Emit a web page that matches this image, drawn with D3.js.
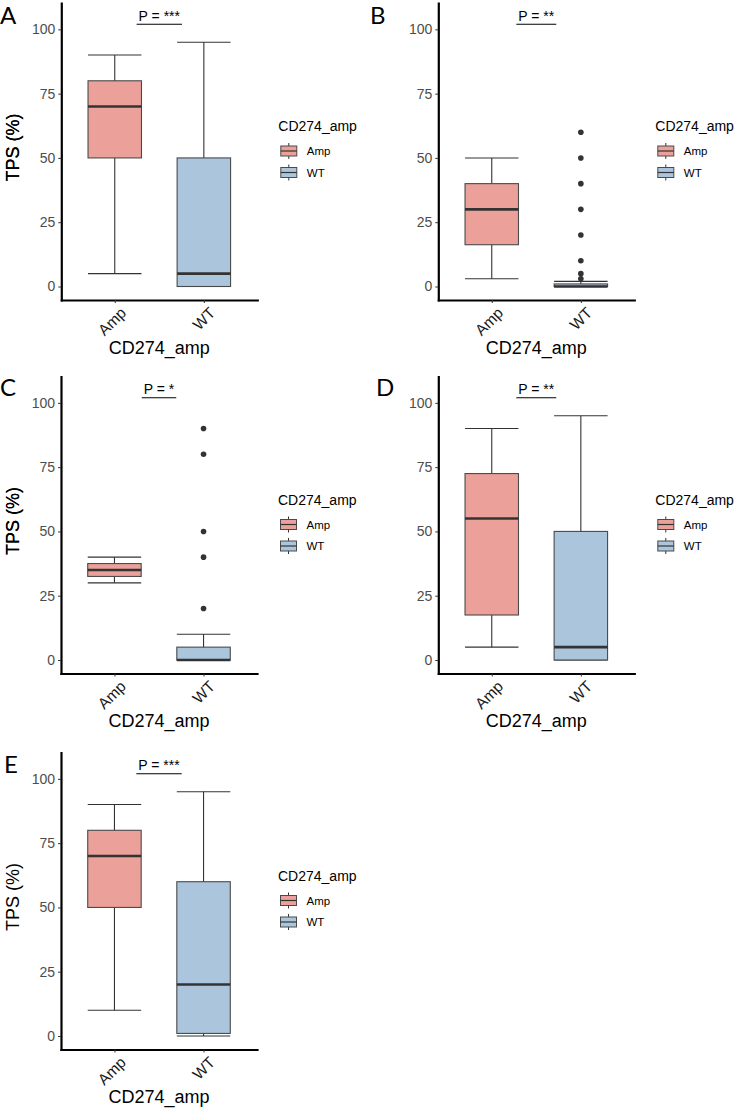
<!DOCTYPE html>
<html>
<head>
<meta charset="utf-8">
<script src="https://cdn.jsdelivr.net/npm/d3@7"></script>
<style>
  body { margin: 0; background: #fff; }
  svg { display: block; font-family: "Liberation Sans", Arial, sans-serif; }
</style>
</head>
<body>
<svg width="736" height="1109"></svg>
<script>
"use strict";

// Data
const categories = ["Amp", "WT"];
const panelNames = ["A", "B", "C", "D", "E"];
const pStars = ["***", "**", "*", "**", "***"];
const yTicks = [0, 25, 50, 75, 100];

// [lower whisker, Q1, median, Q3, upper whisker]
const ampStats = [
  [5, 50, 70, 80, 90],
  [3, 16.25, 30, 40, 50],
  [30, 32.5, 35, 37.5, 40],
  [5, 17.5, 55, 72.5, 90],
  [10, 50, 70, 80, 90]
];
const wtStats = [
  [0, 0, 5, 50, 95],
  [0, 0, 0, 1, 2],
  [0, 0, 0, 5, 10],
  [0, 0, 5, 50, 95],
  [0, 1, 20, 60, 95]
];
const ampOutliers = [[], [], [], [], []];
const wtOutliers = [[], [60, 50, 40, 30, 20, 10, 5, 3], [90, 80, 50, 40, 20], [], []];

// Chart options
const fills = { Amp: "#EBA19A", WT: "#AAC5DC" };
const plotW = 196;
const layout = [
  { x0: 61.3, top: 3, bottom: 300, lx: 0, ly: 24 },
  { x0: 438.3, top: 3, bottom: 300, lx: 370, ly: 24 },
  { x0: 61, top: 376.5, bottom: 673.5, lx: 0, ly: 396 },
  { x0: 438.3, top: 376.5, bottom: 673.5, lx: 376, ly: 396 },
  { x0: 61, top: 752.5, bottom: 1049.5, lx: 4, ly: 773 }
];

const svg = d3.select("svg");

panelNames.forEach((name, i) => {
  const L = layout[i];
  const g = svg.append("g");

  // Scales
  const x = d3.scalePoint()
    .domain(categories)
    .range([L.x0, L.x0 + plotW])
    .padding(0.6);
  const y = d3.scaleLinear()
    .domain([-5.25, 110.25])
    .range([L.bottom, L.top]);
  const bw = x.step() * 0.6;

  // Boxes
  const groups = [
    { key: "Amp", s: ampStats[i], out: ampOutliers[i] },
    { key: "WT", s: wtStats[i], out: wtOutliers[i] }
  ];
  groups.forEach(d => {
    const cx = x(d.key);
    const [lo, q1, med, q3, hi] = d.s;
    g.append("line")
      .attr("x1", cx).attr("x2", cx)
      .attr("y1", y(lo)).attr("y2", y(hi))
      .attr("stroke", "#333").attr("stroke-width", 1.1);
    [lo, hi].forEach(v => {
      g.append("line")
        .attr("x1", cx - bw / 2).attr("x2", cx + bw / 2)
        .attr("y1", y(v)).attr("y2", y(v))
        .attr("stroke", "#333").attr("stroke-width", 1.1);
    });
    g.append("rect")
      .attr("x", cx - bw / 2).attr("width", bw)
      .attr("y", y(q3)).attr("height", y(q1) - y(q3))
      .attr("fill", fills[d.key])
      .attr("stroke", "#4a4a4a").attr("stroke-width", 1.1);
    g.append("line")
      .attr("x1", cx - bw / 2).attr("x2", cx + bw / 2)
      .attr("y1", y(med)).attr("y2", y(med))
      .attr("stroke", "#333").attr("stroke-width", 2.6);
    g.selectAll(null).data(d.out).join("circle")
      .attr("cx", cx).attr("cy", v => y(v))
      .attr("r", 2.8).attr("fill", "#333");
  });

  // Axes
  const yAxis = g.append("g")
    .attr("transform", `translate(${L.x0}, 0)`)
    .call(d3.axisLeft(y).tickValues(yTicks).tickSize(3).tickSizeOuter(0).tickPadding(3));
  yAxis.selectAll("text")
    .attr("fill", "#4D4D4D").style("font-size", "14px");

  const xAxis = g.append("g")
    .attr("transform", `translate(0, ${L.bottom})`)
    .call(d3.axisBottom(x).tickSize(3).tickSizeOuter(0));
  xAxis.selectAll("text")
    .attr("fill", "#1a1a1a").style("font-size", "15.5px")
    .attr("text-anchor", "end")
    .attr("y", 0).attr("dy", "0.72em")
    .attr("transform", "translate(4, 6) rotate(-45)");

  [yAxis, xAxis].forEach(a => {
    a.select(".domain").attr("stroke", "#000").attr("stroke-width", 2.2)
      .attr("stroke-linecap", "square");
    a.selectAll(".tick line").attr("stroke", "#333").attr("stroke-width", 1);
  });

  // Axis titles
  g.append("text")
    .attr("transform", `translate(19, ${L.top + 144.5}) rotate(-90)`)
    .attr("text-anchor", "middle")
    .style("font-size", "18px")
    .text("TPS (%)");
  g.append("text")
    .attr("x", L.x0 + plotW / 2).attr("y", L.bottom + 53.5)
    .attr("text-anchor", "middle")
    .style("font-size", "18px")
    .text("CD274_amp");

  // P value annotation
  const mid = (x("Amp") + x("WT")) / 2;
  const pText = g.append("text")
    .attr("x", mid).attr("y", y(102) - 3.3)
    .attr("text-anchor", "middle")
    .style("font-size", "14px")
    .text(`P = ${pStars[i]}`);
  const tw = pText.node().getComputedTextLength();
  g.append("line")
    .attr("x1", mid - tw / 2 - 2).attr("x2", mid + tw / 2 + 2)
    .attr("y1", y(102)).attr("y2", y(102))
    .attr("stroke", "#000").attr("stroke-width", 1.1);

  // Panel label
  g.append("text")
    .attr("x", L.lx).attr("y", L.ly)
    .style("font-family", "Lato, sans-serif")
    .style("font-size", "24px")
    .text(name);

  // Legend
  const lx = L.x0 + 217;
  const ly = L.top + 128;
  g.append("text")
    .attr("x", lx).attr("y", ly)
    .style("font-size", "14px")
    .text("CD274_amp");
  categories.forEach((c, k) => {
    const cy = ly + 20 + k * 21.5;
    const kx = lx + 2.5;
    g.append("line")
      .attr("x1", kx + 8).attr("x2", kx + 8)
      .attr("y1", cy - 8).attr("y2", cy + 8)
      .attr("stroke", "#333").attr("stroke-width", 1);
    g.append("rect")
      .attr("x", kx).attr("y", cy - 5)
      .attr("width", 16).attr("height", 10)
      .attr("fill", fills[c]).attr("stroke", "#4a4a4a").attr("stroke-width", 1);
    g.append("line")
      .attr("x1", kx).attr("x2", kx + 16)
      .attr("y1", cy).attr("y2", cy)
      .attr("stroke", "#333").attr("stroke-width", 1.2);
    g.append("text")
      .attr("x", lx + 28.5).attr("y", cy).attr("dy", "0.35em")
      .style("font-size", "11.5px")
      .text(c);
  });
});
</script>
</body>
</html>
